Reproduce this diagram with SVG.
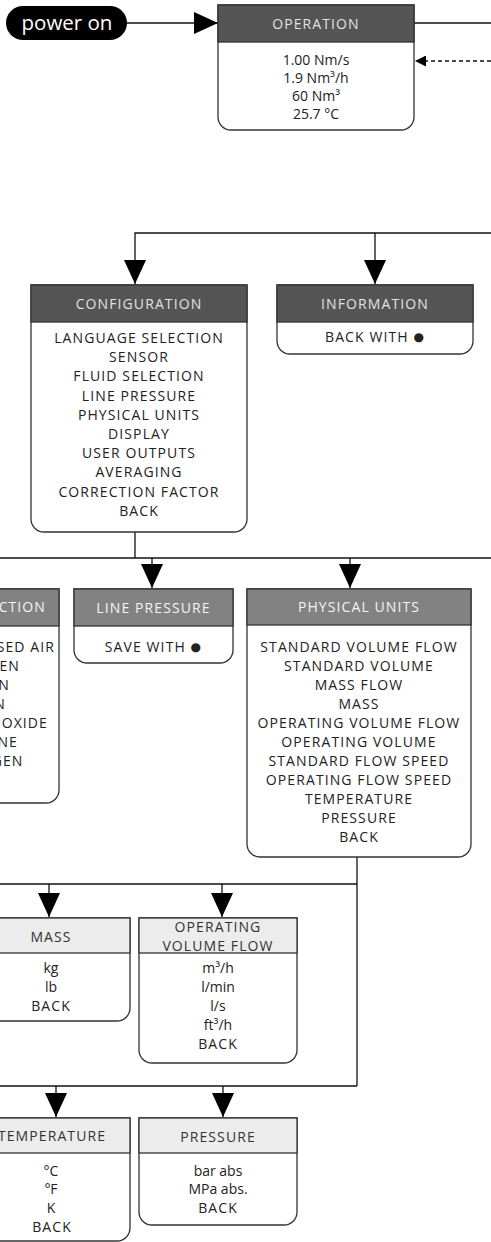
<svg xmlns="http://www.w3.org/2000/svg" width="491" height="1242" viewBox="0 0 491 1242">
<defs>
<style>
text{font-family:"Open Sans","Noto Sans","DejaVu Sans",sans-serif;font-size:14px;text-anchor:middle;fill:#222}
.u{letter-spacing:1.1px}
.e{text-anchor:end}
.b{font-size:12px}
.box{fill:#fff;stroke:#333;stroke-width:1.3}
.hd1{fill:#555;stroke:#333;stroke-width:1.3}
.hd2{fill:#828282;stroke:#333;stroke-width:1.3}
.hd3{fill:#ececec;stroke:#333;stroke-width:1.3}
.t1{fill:#e2e2e2}
.t2{fill:#f4f4f4}
.t3{fill:#333}
.ln{fill:none;stroke:#111;stroke-width:1.3}
.dash{stroke-dasharray:4 3}
</style>
<marker id="arr" viewBox="0 0 24 22" refX="24" refY="11" markerWidth="24" markerHeight="22" markerUnits="userSpaceOnUse" orient="auto">
<path d="M0,0 L24,11 L0,22 Z" fill="#000"/>
</marker>
<marker id="arrs" viewBox="0 0 11 11" refX="11" refY="5.5" markerWidth="11" markerHeight="11" markerUnits="userSpaceOnUse" orient="auto">
<path d="M0,0 L11,5.5 L0,11 Z" fill="#000"/>
</marker>
</defs>
<rect width="491" height="1242" fill="#fff"/>

<g id="connectors">
<path class="ln" d="M127,23 H218" marker-end="url(#arr)"/>
<path class="ln" d="M414,23 H491"/>
<path class="ln dash" d="M491,61 H415" marker-end="url(#arrs)"/>
<path class="ln" d="M491,233 H135 V284" marker-end="url(#arr)"/>
<path class="ln" d="M375,233 V284" marker-end="url(#arr)"/>
<path class="ln" d="M135,532 V558"/>
<path class="ln" d="M0,558 H491"/>
<path class="ln" d="M152,558 V588" marker-end="url(#arr)"/>
<path class="ln" d="M350,558 V588" marker-end="url(#arr)"/>
<path class="ln" d="M357,857 V1086"/>
<path class="ln" d="M0,884 H357"/>
<path class="ln" d="M49,884 V917" marker-end="url(#arr)"/>
<path class="ln" d="M222,884 V917" marker-end="url(#arr)"/>
<path class="ln" d="M0,1086 H357"/>
<path class="ln" d="M56,1086 V1117" marker-end="url(#arr)"/>
<path class="ln" d="M223,1086 V1117" marker-end="url(#arr)"/>
</g>

<g id="power-on">
<rect x="6" y="6" width="121" height="34" rx="17" fill="#000"/>
<text x="67" y="29.5" style="font-size:20.5px;fill:#fff">power on</text>
</g>

<g id="operation">
<path class="box" d="M218,5 H414 V117 A13,13 0 0 1 401,130 H231 A13,13 0 0 1 218,117 Z"/>
<rect class="hd1" x="218" y="5" width="196" height="37"/>
<text class="u t1" x="316" y="28.5">OPERATION</text>
<text x="316" y="65">1.00 Nm/s</text>
<text x="316" y="83">1.9 Nm³/h</text>
<text x="316" y="101">60 Nm³</text>
<text x="316" y="119">25.7 °C</text>
</g>

<g id="configuration">
<path class="box" d="M31,285 H247 V519 A13,13 0 0 1 234,532 H44 A13,13 0 0 1 31,519 Z"/>
<rect class="hd1" x="31" y="285" width="216" height="37"/>
<text class="u t1" x="139" y="308.5">CONFIGURATION</text>
<text class="u" x="139" y="343">LANGUAGE SELECTION</text>
<text class="u" x="139" y="362.2">SENSOR</text>
<text class="u" x="139" y="381.4">FLUID SELECTION</text>
<text class="u" x="139" y="400.6">LINE PRESSURE</text>
<text class="u" x="139" y="419.8">PHYSICAL UNITS</text>
<text class="u" x="139" y="439">DISPLAY</text>
<text class="u" x="139" y="458.2">USER OUTPUTS</text>
<text class="u" x="139" y="477.4">AVERAGING</text>
<text class="u" x="139" y="496.6">CORRECTION FACTOR</text>
<text class="u" x="139" y="515.8">BACK</text>
</g>

<g id="information">
<path class="box" d="M277,285 H473 V341 A13,13 0 0 1 460,354 H290 A13,13 0 0 1 277,341 Z"/>
<rect class="hd1" x="277" y="285" width="196" height="37"/>
<text class="u t1" x="375" y="308.5">INFORMATION</text>
<text class="u" x="375" y="342">BACK WITH <tspan class="b" dy="-1.5">●</tspan></text>
</g>

<g id="fluid-selection">
<path class="box" d="M-100,589 H59 V790 A13,13 0 0 1 46,803 H-87 A13,13 0 0 1 -100,790 Z"/>
<rect class="hd2" x="-100" y="589" width="159" height="37"/>
<text class="u t2 e" x="46" y="612">CTION</text>
<text class="u e" x="55" y="651.7">SED AIR</text>
<text class="u e" x="20" y="670.8">EN</text>
<text class="u e" x="10" y="689.8">N</text>
<text class="u e" x="6" y="708.9">N</text>
<text class="u e" x="48" y="727.9">OXIDE</text>
<text class="u e" x="18" y="747">NE</text>
<text class="u e" x="23.5" y="766">GEN</text>
</g>

<g id="line-pressure">
<path class="box" d="M74,589 H233 V650 A13,13 0 0 1 220,663 H87 A13,13 0 0 1 74,650 Z"/>
<rect class="hd2" x="74" y="589" width="159" height="37"/>
<text class="u t2" x="153.5" y="612.5">LINE PRESSURE</text>
<text class="u" x="153.5" y="652">SAVE WITH <tspan class="b" dy="-1.5">●</tspan></text>
</g>

<g id="physical-units">
<path class="box" d="M247,589 H471 V844 A13,13 0 0 1 458,857 H260 A13,13 0 0 1 247,844 Z"/>
<rect class="hd2" x="247" y="589" width="224" height="36"/>
<text class="u t2" x="359" y="612">PHYSICAL UNITS</text>
<text class="u" x="359" y="652.3">STANDARD VOLUME FLOW</text>
<text class="u" x="359" y="671.3">STANDARD VOLUME</text>
<text class="u" x="359" y="690.2">MASS FLOW</text>
<text class="u" x="359" y="709.2">MASS</text>
<text class="u" x="359" y="728.2">OPERATING VOLUME FLOW</text>
<text class="u" x="359" y="747.2">OPERATING VOLUME</text>
<text class="u" x="359" y="766.1">STANDARD FLOW SPEED</text>
<text class="u" x="359" y="785.1">OPERATING FLOW SPEED</text>
<text class="u" x="359" y="804.1">TEMPERATURE</text>
<text class="u" x="359" y="823.1">PRESSURE</text>
<text class="u" x="359" y="842">BACK</text>
</g>

<g id="mass">
<path class="box" d="M-28,918 H130 V1008 A13,13 0 0 1 117,1021 H-15 A13,13 0 0 1 -28,1008 Z"/>
<rect class="hd3" x="-28" y="918" width="158" height="35"/>
<text class="u t3" x="51" y="941.5">MASS</text>
<text x="51" y="972.5">kg</text>
<text x="51" y="992">lb</text>
<text class="u" x="51" y="1011.3">BACK</text>
</g>

<g id="operating-volume-flow">
<path class="box" d="M139,918 H297 V1050 A13,13 0 0 1 284,1063 H152 A13,13 0 0 1 139,1050 Z"/>
<rect class="hd3" x="139" y="918" width="158" height="35"/>
<text class="u t3" x="218" y="932.3">OPERATING</text>
<text class="u t3" x="218" y="950.7">VOLUME FLOW</text>
<text x="218" y="973">m³/h</text>
<text x="218" y="992">l/min</text>
<text x="218" y="1011">l/s</text>
<text x="218" y="1030">ft³/h</text>
<text class="u" x="218" y="1049">BACK</text>
</g>

<g id="temperature">
<path class="box" d="M-28,1118 H130 V1228 A13,13 0 0 1 117,1241 H-15 A13,13 0 0 1 -28,1228 Z"/>
<rect class="hd3" x="-28" y="1118" width="158" height="35"/>
<text class="u t3" x="52" y="1141">TEMPERATURE</text>
<text x="51" y="1175.7">°C</text>
<text x="51" y="1194.3">°F</text>
<text x="51" y="1213">K</text>
<text class="u" x="52" y="1231.7">BACK</text>
</g>

<g id="pressure">
<path class="box" d="M139,1118 H297 V1212 A13,13 0 0 1 284,1225 H152 A13,13 0 0 1 139,1212 Z"/>
<rect class="hd3" x="139" y="1118" width="158" height="35"/>
<text class="u t3" x="218" y="1141.5">PRESSURE</text>
<text x="218" y="1175.7">bar abs</text>
<text x="218" y="1194.3">MPa abs.</text>
<text class="u" x="218" y="1213">BACK</text>
</g>
</svg>
